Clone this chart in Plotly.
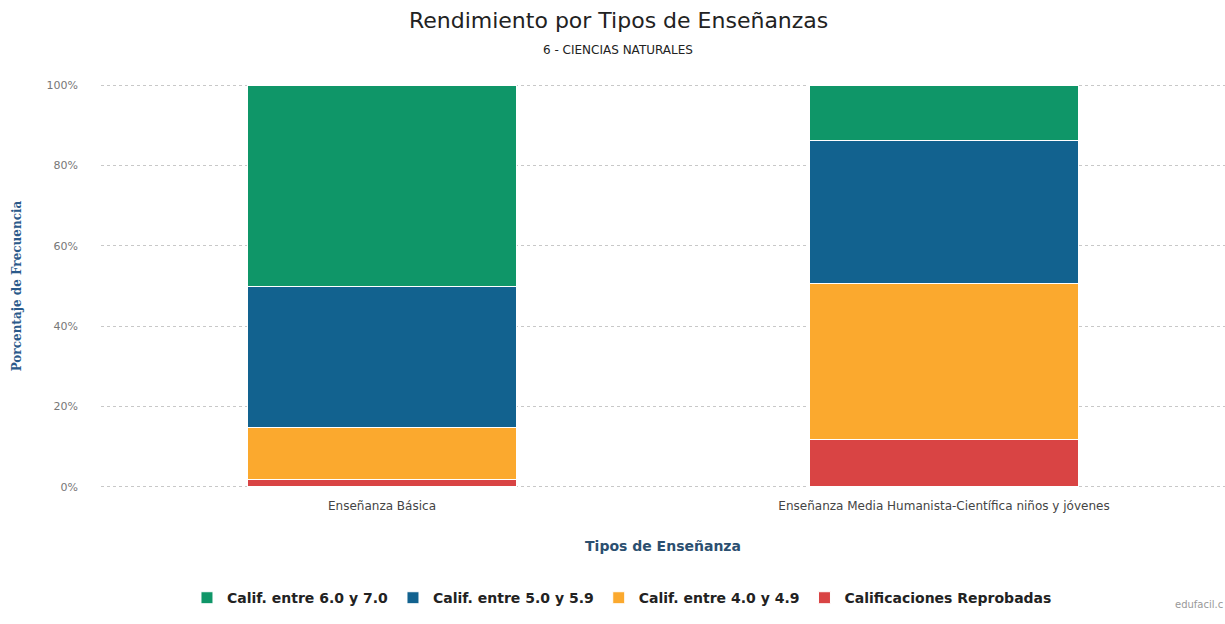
import plotly.graph_objects as go

categories = [
    "Enseñanza Básica",
    "Enseñanza Media Humanista-Científica niños y jóvenes",
]
series_names = [
    "Calif. entre 6.0 y 7.0",
    "Calif. entre 5.0 y 5.9",
    "Calif. entre 4.0 y 4.9",
    "Calificaciones Reprobadas",
]
calif_60_70 = [50.2, 13.7]
calif_50_59 = [35.0, 35.6]
calif_40_49 = [12.9, 39.0]
reprobadas = [1.9, 11.7]
y_ticks = [0, 20, 40, 60, 80, 100]

colors = {
    "Calif. entre 6.0 y 7.0": "#0f9668",
    "Calif. entre 5.0 y 5.9": "#12628f",
    "Calif. entre 4.0 y 4.9": "#fba92e",
    "Calificaciones Reprobadas": "#d94444",
}

# stacked bottom-up: reprobadas first, legend shown in reverse
stack = [
    ("Calificaciones Reprobadas", reprobadas),
    ("Calif. entre 4.0 y 4.9", calif_40_49),
    ("Calif. entre 5.0 y 5.9", calif_50_59),
    ("Calif. entre 6.0 y 7.0", calif_60_70),
]

fig = go.Figure()
for name, vals in stack:
    fig.add_trace(
        go.Bar(
            x=categories,
            y=vals,
            name=f"<b>{name}</b>",
            marker=dict(color=colors[name], line=dict(color="white", width=1)),
        )
    )

fig.update_layout(
    barmode="stack",
    bargap=0.52,
    width=1225,
    height=624,
    # plot box spans y 82..490 px, so 0%..100% still sit at ~487/85
    margin=dict(l=101, r=0, t=82, b=134, autoexpand=False),
    paper_bgcolor="white",
    plot_bgcolor="white",
    font=dict(family="DejaVu Sans", color="#333333"),
    title=dict(
        text="Rendimiento por Tipos de Enseñanzas",
        x=0.505,
        xanchor="center",
        xref="container",
        yref="container",
        y=1 - 20 / 624,
        yanchor="middle",
        font=dict(size=22, color="#222222"),
    ),
    showlegend=True,
    legend=dict(
        orientation="h",
        x=0.4635,
        xanchor="center",
        y=-0.265,
        yanchor="middle",
        traceorder="reversed",
        font=dict(size=14, color="#222222", family="DejaVu Sans"),
    ),
)

fig.add_annotation(
    text="6 - CIENCIAS NATURALES",
    xref="paper",
    yref="paper",
    x=0.46,
    y=1.078,
    xanchor="center",
    yanchor="middle",
    showarrow=False,
    font=dict(size=12, color="#222222"),
)

fig.update_xaxes(
    showgrid=False,
    showline=False,
    ticks="",
    automargin=False,
    ticklabelstandoff=7,
    tickfont=dict(size=12, color="#444444"),
    title=dict(
        text="<b>Tipos de Enseñanza</b>",
        font=dict(size=14, color="#2b4f70"),
        standoff=29,
    ),
)
fig.update_yaxes(
    range=[-0.75, 100.75],
    tickvals=y_ticks,
    ticktext=[f"{v}%" for v in y_ticks],
    ticks="",
    automargin=False,
    showgrid=True,
    gridcolor="#c8c8c8",
    griddash="dot",
    gridwidth=1,
    zeroline=False,
    tickfont=dict(size=11, color="#777777"),
    ticklabelstandoff=22,
    title=dict(
        text="<b>Porcentaje de Frecuencia</b>",
        font=dict(size=12, color="#2b5a8a", family="DejaVu Serif"),
        standoff=22,
    ),
)

fig.add_annotation(
    text="edufacil.c",
    xref="paper",
    yref="paper",
    x=1.0,
    y=-0.28,
    xanchor="right",
    yanchor="middle",
    showarrow=False,
    font=dict(size=10, color="#999999"),
)

fig.write_html(
    "out.html",
    config={"displayModeBar": False},
    post_script="document.body.style.margin='0';",
)
